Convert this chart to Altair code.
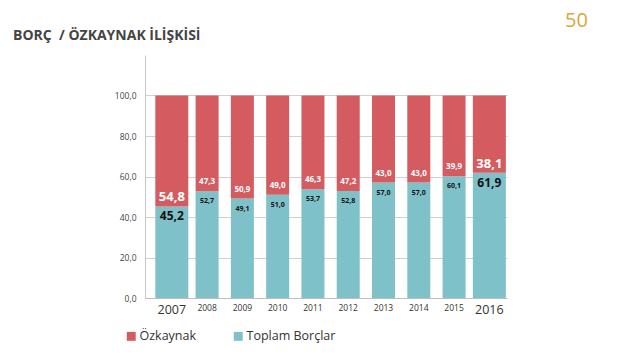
import altair as alt
import pandas as pd

years = ["2007", "2008", "2009", "2010", "2011", "2012", "2013", "2014", "2015", "2016"]
ozkaynak = [54.8, 47.3, 50.9, 49.0, 46.3, 47.2, 43.0, 43.0, 39.9, 38.1]
borclar = [45.2, 52.7, 49.1, 51.0, 53.7, 52.8, 57.0, 57.0, 60.1, 61.9]
series = ["Özkaynak", "Toplam Borçlar"]
y_ticks = [0, 20, 40, 60, 80, 100]
highlight_years = ["2007", "2016"]
title_text = "BORÇ\u00a0 / ÖZKAYNAK İLİŞKİSİ"
logo_text = "50"

RED = "#D45C60"
TEAL = "#7FC1C9"
FONT = "Open Sans"

rows = []
for yr, oz, bo in zip(years, ozkaynak, borclar):
    rows.append({"year": yr, "series": series[1], "value": bo, "ord": 0})
    rows.append({"year": yr, "series": series[0], "value": oz, "ord": 1})
df = pd.DataFrame(rows)

wide = pd.DataFrame({"year": years, "oz": ozkaynak, "bo": borclar})
wide["oz_lbl"] = [f"{v:.1f}".replace(".", ",") for v in ozkaynak]
wide["bo_lbl"] = [f"{v:.1f}".replace(".", ",") for v in borclar]

big = alt.FieldOneOfPredicate(field="year", oneOf=highlight_years)

x_scale = alt.Scale(paddingInner=0, paddingOuter=0.13, align=1)
y_scale = alt.Scale(domain=[0, 120], nice=False)

x_axis = alt.Axis(
    labelAngle=0,
    labelFont=FONT,
    labelColor="#333333",
    labelFontSize={"condition": {"test": "indexof(['2007','2016'], datum.value) >= 0", "value": 12.5}, "value": 8.5},
    labelPadding=5,
    ticks=False,
    domain=True,
    domainColor="#bdbdbd",
    grid=False,
)

y_axis = alt.Axis(
    values=y_ticks,
    labelExpr="replace(format(datum.value, '.1f'), '.', ',')",
    labelFont=FONT,
    labelFontSize=8.5,
    labelColor="#444444",
    labelPadding=9,
    ticks=False,
    domain=True,
    domainColor="#c8c8c8",
    grid=True,
    gridColor="#d0d0d0",
    gridWidth=1,
)

bars = alt.Chart(df).mark_bar().encode(
    x=alt.X("year:N", sort=years, title=None, scale=x_scale, axis=x_axis),
    y=alt.Y("value:Q", stack="zero", title=None, scale=y_scale, axis=y_axis),
    color=alt.Color(
        "series:N",
        scale=alt.Scale(domain=series, range=[RED, TEAL]),
        legend=alt.Legend(
            title=None,
            orient="none",
            legendX=-20,
            legendY=275,
            direction="horizontal",
            symbolType="square",
            symbolSize=80,
            symbolStrokeWidth=0,
            symbolOpacity=1,
            labelFont=FONT,
            labelFontSize=12.5,
            labelColor="#333333",
            labelOffset=2,
            columnPadding=35,
        ),
    ),
    order=alt.Order("ord:Q"),
    size=alt.condition(big, alt.value(33), alt.value(23)),
)

oz_text = alt.Chart(wide).mark_text(
    color="white", fontWeight="bold", font=FONT, baseline="middle", dy=-9
).encode(
    x=alt.X("year:N", sort=years, title=None, scale=x_scale, axis=x_axis),
    y=alt.Y("bo:Q", title=None, scale=y_scale, axis=y_axis),
    text="oz_lbl:N",
    size=alt.condition(big, alt.value(13), alt.value(8)),
)

bo_text = alt.Chart(wide).mark_text(
    color="#111111", fontWeight="bold", font=FONT, baseline="middle", dy=10
).encode(
    x=alt.X("year:N", sort=years, title=None, scale=x_scale, axis=x_axis),
    y=alt.Y("bo:Q", title=None, scale=y_scale, axis=y_axis),
    text="bo_lbl:N",
    size=alt.condition(big, alt.value(12), alt.value(7)),
)

title = alt.Chart(pd.DataFrame({"t": [title_text]})).mark_text(
    color="#444444", font=FONT, fontSize=14, fontWeight="bold", align="left", baseline="alphabetic"
).encode(x=alt.value(-132), y=alt.value(-15), text="t:N")

logo = alt.Chart(pd.DataFrame({"t": [logo_text]})).mark_text(
    color="#D8A83A", font=FONT, fontSize=20, fontWeight="normal", align="left", baseline="middle"
).encode(x=alt.value(420), y=alt.value(-34), text="t:N")

chart = alt.layer(bars, oz_text, bo_text, title, logo).properties(
    width=362,
    height=243,
    autosize="none",
    padding={"left": 137, "top": 47, "right": 119, "bottom": 49},
    background="white",
).configure_view(stroke=None)

chart.save("out.html", embed_options={"renderer": "svg", "actions": False})
